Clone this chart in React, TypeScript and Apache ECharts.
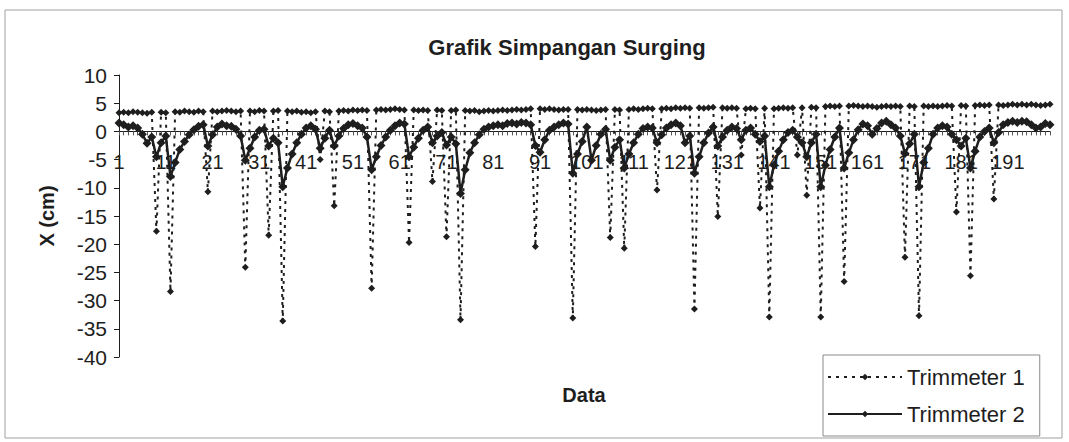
import React, { useEffect, useRef } from "react";
import * as echarts from "echarts";

const TITLE = "Grafik Simpangan Surging";
const X_NAME = "Data";
const Y_NAME = "X (cm)";
const SERIES_NAMES = ["Trimmeter 1", "Trimmeter 2"];

// categories 1..200
const categories: string[] = Array.from({ length: 200 }, (_, i) => String(i + 1));

const trimmeter1: number[] = [
  3.3, 3.4, 3.3, 3.5, 3.4, 3.3, 3.2, 3.4, -17.7, 3.4,
  3.3, -28.4, 3.5, 3.4, 3.6, 3.5, 3.4, 3.6, 3.5, -10.7,
  3.6, 3.5, 3.6, 3.7, 3.6, 3.5, 3.6, -24.1, 3.6, 3.5,
  3.7, 3.6, -18.4, 3.6, 3.7, -33.6, 3.6, 3.5, 3.6, 3.4,
  3.5, 3.3, 3.5, -5.0, 3.6, 3.5, -13.2, 3.6, 3.7, 3.6,
  3.8, 3.7, 3.8, 3.7, -27.8, 3.8, 3.9, 3.8, 3.9, 4.0,
  3.9, 3.8, -19.7, 3.8, 3.7, 3.8, 3.7, -8.9, 3.8, 3.7,
  -18.7, 3.7, 3.8, -33.4, 3.7, 3.6, 3.7, 3.5, 3.6, 3.7,
  3.6, 3.7, 3.8, 3.7, 3.8, 3.9, 3.8, 3.9, 4.0, -20.4,
  4.0, 3.9, 4.0, 3.9, 3.8, 3.9, 3.9, -33.1, 3.9, 3.8,
  3.9, 3.8, 3.7, 3.8, 3.9, -18.8, 3.9, 3.8, -20.7, 3.9,
  4.0, 3.9, 4.0, 4.1, 4.0, -10.4, 4.0, 4.1, 4.0, 4.2,
  4.1, 4.2, 4.1, -31.5, 4.2, 4.1, 4.2, 4.3, -15.1, 4.2,
  4.1, 4.2, 4.1, -4.2, 4.0, 4.1, 4.0, -13.6, 4.1, -32.9,
  4.0, 4.1, 4.2, 4.1, 4.2, -4.2, 4.2, -11.3, 4.3, 4.2,
  -32.9, 4.4, 4.5, 4.4, 4.5, -26.6, 4.5, 4.6, 4.5, 4.4,
  4.5, 4.4, 4.3, 4.4, 4.5, 4.4, 4.5, 4.4, -22.3, 4.5,
  4.4, -32.7, 4.5, 4.4, 4.5, 4.4, 4.5, 4.6, 4.5, -14.3,
  4.6, 4.5, -25.6, 4.6, 4.7, 4.6, 4.7, -12.0, 4.7, 4.6,
  4.7, 4.8, 4.7, 4.8, 4.7, 4.8, 4.7, 4.6, 4.7, 4.8,
];

const trimmeter2: number[] = [
  1.5, 1.2, 0.8, 1.0, 0.6, -0.5, -2.1, -1.0, -4.5, -2.0,
  -0.8, -8.0, -5.5, -3.2, -1.8, -0.6, 0.3, 0.9, 1.2, -2.6,
  -0.6, 0.8, 1.3, 1.0, 0.9, 0.4, -0.8, -5.1, -3.0, -1.0,
  0.2, 0.4, -2.6, -1.2, -2.0, -9.8, -6.5, -4.0, -2.0, -0.5,
  0.6, 1.0, 0.4, -3.0, -1.2, 0.2, -2.6, -0.8, 0.5, 1.2,
  1.4, 1.0, 0.6, -1.0, -6.8, -4.5, -2.5, -1.0, 0.2, 1.0,
  1.5, 1.3, -4.5, -2.8, -1.2, 0.2, 0.8, -2.0, -0.8, -0.2,
  -2.4, -1.0, -2.2, -11.0, -6.8, -3.8, -2.0, -0.6, 0.4, 0.8,
  1.0, 1.2, 1.0, 1.4, 1.5, 1.3, 1.6, 1.5, 1.2, -2.5,
  -3.7, -1.5, 0.2, 0.8, 1.2, 1.5, 1.3, -7.4, -4.0, -1.8,
  0.8, -5.1, -2.5, -0.5, 0.4, -5.1, -2.8, -1.5, -6.5, -4.0,
  -2.0, -0.5, 0.5, 0.8, 0.6, -2.0, -0.6, 0.6, 1.2, 1.5,
  1.0, -2.0, -0.8, -7.4, -4.5, -2.0, -0.3, 0.8, -2.6, -1.0,
  0.2, 0.8, 0.5, -1.5, 0.2, 0.6, -0.5, -1.8, -0.8, -9.8,
  -6.0, -3.5, -1.5, -0.2, 0.2, -1.0, -2.0, -4.5, -2.0, -0.5,
  -9.8, -6.0, -3.2, -1.0, 0.6, -6.5, -3.8, -1.5, 0.3, 1.3,
  1.0, -0.5, 0.5, 1.5, 1.8, 1.2, 0.6, -0.8, -3.9, -2.2,
  -0.5, -9.8, -5.5, -3.0, -0.5, 0.6, 1.0, 0.8, -0.5, -1.5,
  -2.6, -1.2, -6.5, -3.5, -1.0, 0.0, 0.6, -2.0, -0.2, 1.2,
  1.6, 1.8, 1.6, 1.8, 1.7, 1.2, 0.6, 0.8, 1.4, 1.2,
];

const Y_MIN = -40;
const Y_MAX = 10;
const Y_STEP = 5;

const FONT = "'Liberation Sans', Arial, Helvetica, sans-serif";
const INK = "#1e1e1e";

const GRID_TOP = 75;
const GRID_BOTTOM = 85;
const CHART_H = 442;

export default function App() {
  const ref = useRef<HTMLDivElement | null>(null);

  useEffect(() => {
    if (!ref.current) return;
    const chart = echarts.init(ref.current, undefined, { renderer: "svg" });
    // place the category axis on the value 0 line
    const plotH = CHART_H - GRID_TOP - GRID_BOTTOM;
    const zeroOffset = (plotH * (0 - Y_MIN)) / (Y_MAX - Y_MIN);
    chart.setOption({
      animation: false,
      backgroundColor: "#ffffff",
      textStyle: { fontFamily: FONT, color: INK },
      grid: {
        left: 119,
        right: 19,
        top: GRID_TOP,
        bottom: GRID_BOTTOM,
        containLabel: false,
        outerBoundsMode: "none",
      },
      graphic: [
        {
          type: "rect",
          shape: { x: 5, y: 10, width: 1057, height: 428 },
          style: { fill: "none", stroke: "#a0a0a0", lineWidth: 1 },
          silent: true,
        },
        {
          type: "text",
          x: 567,
          y: 47,
          style: {
            text: TITLE,
            font: `bold 22px ${FONT}`,
            fill: INK,
            textAlign: "center",
            textVerticalAlign: "middle",
          },
        },
        {
          type: "text",
          x: 584,
          y: 395,
          style: {
            text: X_NAME,
            font: `bold 20px ${FONT}`,
            fill: INK,
            textAlign: "center",
            textVerticalAlign: "middle",
          },
        },
      ],
      legend: {
        orient: "vertical",
        left: 823,
        top: 355,
        data: SERIES_NAMES,
        borderColor: "#8a8a8a",
        borderWidth: 1,
        borderRadius: 0,
        padding: [10, 15, 10, 4],
        itemWidth: 74,
        itemHeight: 8,
        itemGap: 13,
        textStyle: { fontSize: 22, lineHeight: 24, color: INK, fontFamily: FONT },
      },
      xAxis: {
        type: "category",
        data: categories,
        boundaryGap: false,
        offset: -zeroOffset,
        axisLine: { onZero: false, lineStyle: { color: INK, width: 1 } },
        axisTick: { show: true, interval: 0, length: 4, lineStyle: { color: "#555" } },
        axisLabel: { interval: 9, margin: 21, fontSize: 20, color: INK, fontFamily: FONT },
        splitLine: { show: false },
      },
      yAxis: {
        type: "value",
        min: Y_MIN,
        max: Y_MAX,
        interval: Y_STEP,
        name: Y_NAME,
        nameLocation: "middle",
        nameGap: 62,
        nameTextStyle: { fontSize: 20, fontWeight: "bold", color: INK, fontFamily: FONT },
        axisLine: { show: true, lineStyle: { color: INK, width: 1 } },
        axisTick: { show: true, length: 5, lineStyle: { color: INK } },
        axisLabel: { fontSize: 21, margin: 12, color: INK, fontFamily: FONT },
        splitLine: { show: false },
      },
      series: [
        {
          name: SERIES_NAMES[0],
          type: "line",
          data: trimmeter1,
          symbol: "diamond",
          symbolSize: 7,
          showAllSymbol: true,
          itemStyle: { color: INK },
          lineStyle: { color: INK, width: 2, type: [3, 5] },
        },
        {
          name: SERIES_NAMES[1],
          type: "line",
          data: trimmeter2,
          symbol: "diamond",
          symbolSize: 9,
          showAllSymbol: true,
          itemStyle: { color: INK },
          lineStyle: { color: INK, width: 2.5 },
        },
      ],
    });
    return () => chart.dispose();
  }, []);

  return (
    <div
      ref={ref}
      style={{ position: "fixed", left: 0, top: 0, width: 1069, height: 442, background: "#fff" }}
    />
  );
}
